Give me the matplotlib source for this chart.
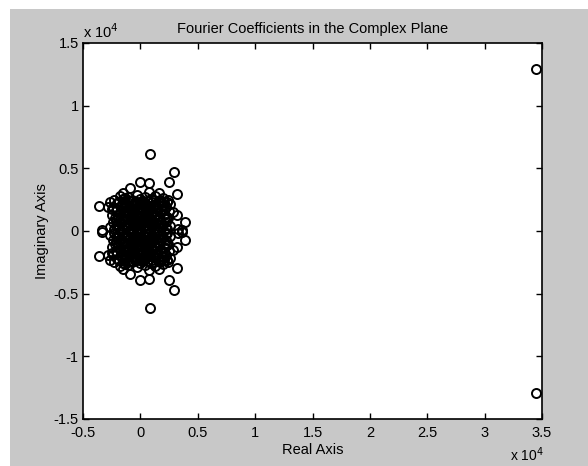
import matplotlib
matplotlib.use("Agg")
import matplotlib.pyplot as plt
from matplotlib.ticker import FuncFormatter
from matplotlib.patches import Rectangle

plt.rcParams['font.family'] = ['Liberation Sans', 'DejaVu Sans']

# upper half of the Fourier coefficients (real, imag); the lower half is the conjugate
real_up = [
    # outer points
    840, 2930, 2490, 3190, 3890, 3190, 3280, 3630, -900, -30, 750, 750,
    2400, 2840, 2320, -3600, -2650, -2800, -3340, -2650, -2470, -1500, 1600,
    # core
    -1800, -1100, -300, 400, 1300, 2000,
    -2300, -1500, -700, 100, 900, 1700, 2350,
    -2000, -1300, -500, 300, 1100, 1900, 2550,
    -2400, -1700, -900, -100, 600, 1400, 2200,
    -2100, -1400, -600, 200, 1000, 1800, 2500,
    -2450, -1800, -1000, -300, 500, 1300, 2100,
    -2200, -1500, -700, 0, 800, 1600, 2400,
    -2350, -1700, -900, -200, 600, 1400, 2200,
    -2100, -1300, -500, 300, 1100, 1900, 2600,
    -2300, -1600, -800, 0, 700, 1500, 2300,
    # extra centre density
    -1200, -600, -100, 400, 900, 1200, -900, -300, 200, 700,
    -1100, -400, 100, 600, 1000, -700, -200, 300, 800, -500,
    0, 500, -800, -300, 250, 650, 1100, -1300, -50, 450,
    -1900, -1450, -950, -450, 50, 550, 1050, 1550, 2050,
    -2050, -1550, -1050, -550, -50, 450, 950, 1450, 1950,
    -1950, -1350, -850, -350, 150, 650, 1150, 1650, 2150,
    -2050, -1650, -1150, -650, -150, 350, 850, 1350, 1850,
    -1850, -1250, -750, -250, 250, 750, 1250, 1750, 2250,
    -1600, -1000, -400, 200, 800, 1400, 2000,
    -1400, -800, -200, 400, 1000, 1600, -2150,
]
imag_up = [
    6150, 4680, 3890, 2980, 750, 1270, 150, 40, 3410, 3890, 3810, 3100,
    2460, 1500, 1110, 1980, 2300, 1900, 100, 320, 1750, 3000, 3050,
    2800, 2700, 2850, 2750, 2800, 2650,
    2450, 2550, 2500, 2400, 2550, 2450, 2350,
    2200, 2150, 2250, 2200, 2100, 2250, 2150,
    1900, 1950, 1850, 1900, 1950, 1850, 1900,
    1600, 1550, 1650, 1600, 1550, 1650, 1600,
    1300, 1350, 1250, 1300, 1350, 1250, 1300,
    1000, 1050, 950, 1000, 1050, 950, 1000,
    700, 750, 650, 700, 750, 650, 700,
    400, 450, 350, 400, 450, 350, 400,
    150, 200, 100, 150, 200, 100, 150,
    1450, 1750, 1150, 1550, 850, 2000, 550, 2350, 1800, 1200,
    500, 900, 650, 1100, 300, 1400, 1750, 2050, 1700, 2050,
    450, 250, 2400, 600, 950, 1950, 2450, 2650, 2550, 2050,
    2350, 2300, 2400, 2350, 2300, 2400, 2350, 2300, 2350,
    1750, 1800, 1700, 1750, 1800, 1700, 1750, 1800, 1750,
    1150, 1200, 1100, 1150, 1200, 1100, 1150, 1200, 1150,
    550, 600, 500, 550, 600, 500, 550, 600, 550,
    250, 300, 200, 250, 300, 200, 250, 300, 250,
    2050, 2000, 2100, 2050, 2000, 2100, 2050,
    850, 800, 900, 850, 800, 900, 850,
]

# the two large coefficients far out on the real axis
real_big = [34450, 34450]
imag_big = [12900, -12900]

real_vals = real_up + real_up + real_big
imag_vals = imag_up + [-v for v in imag_up] + imag_big

fig = plt.figure(figsize=(5.88, 4.66), dpi=100, facecolor='white')
fig.patches.append(Rectangle((10 / 588, 0), 1, (466 - 9) / 466, transform=fig.transFigure,
                             facecolor='#c8c8c8', edgecolor='none', zorder=-10))

ax = fig.add_axes([83 / 588, 47 / 466, 459 / 588, 376 / 466])
ax.plot(real_vals, imag_vals, 'o', markerfacecolor='none', markeredgecolor='black',
        markersize=6.5, markeredgewidth=1.4, linestyle='none')

ax.set_xlim(-5000, 35000)
ax.set_ylim(-15000, 15000)
ax.set_xticks([-5000, 0, 5000, 10000, 15000, 20000, 25000, 30000, 35000])
ax.set_yticks([-15000, -10000, -5000, 0, 5000, 10000, 15000])
fmt = FuncFormatter(lambda v, p: ('%g' % (v / 1e4)))
ax.xaxis.set_major_formatter(fmt)
ax.yaxis.set_major_formatter(fmt)
ax.tick_params(direction='in', length=4, width=1, top=True, right=True,
               labelsize=10.5, colors='black')
ax.tick_params(axis='x', pad=5)
ax.tick_params(axis='y', pad=3)
for s in ax.spines.values():
    s.set_linewidth(1.2)

ax.set_title("Fourier Coefficients in the Complex Plane", fontsize=10.5, pad=7)
ax.set_xlabel("Real Axis", fontsize=10.5, labelpad=2)
ax.set_ylabel("Imaginary Axis", fontsize=10.5, labelpad=3)

fig.text(83 / 588, (466 - 32) / 466, r"x 10$^4$", fontsize=10.5, va='center', ha='left')
fig.text(510 / 588, 5 / 466, r"x 10$^4$", fontsize=10, va='baseline', ha='left')

fig.savefig("out.png", dpi=100, facecolor=fig.get_facecolor())
